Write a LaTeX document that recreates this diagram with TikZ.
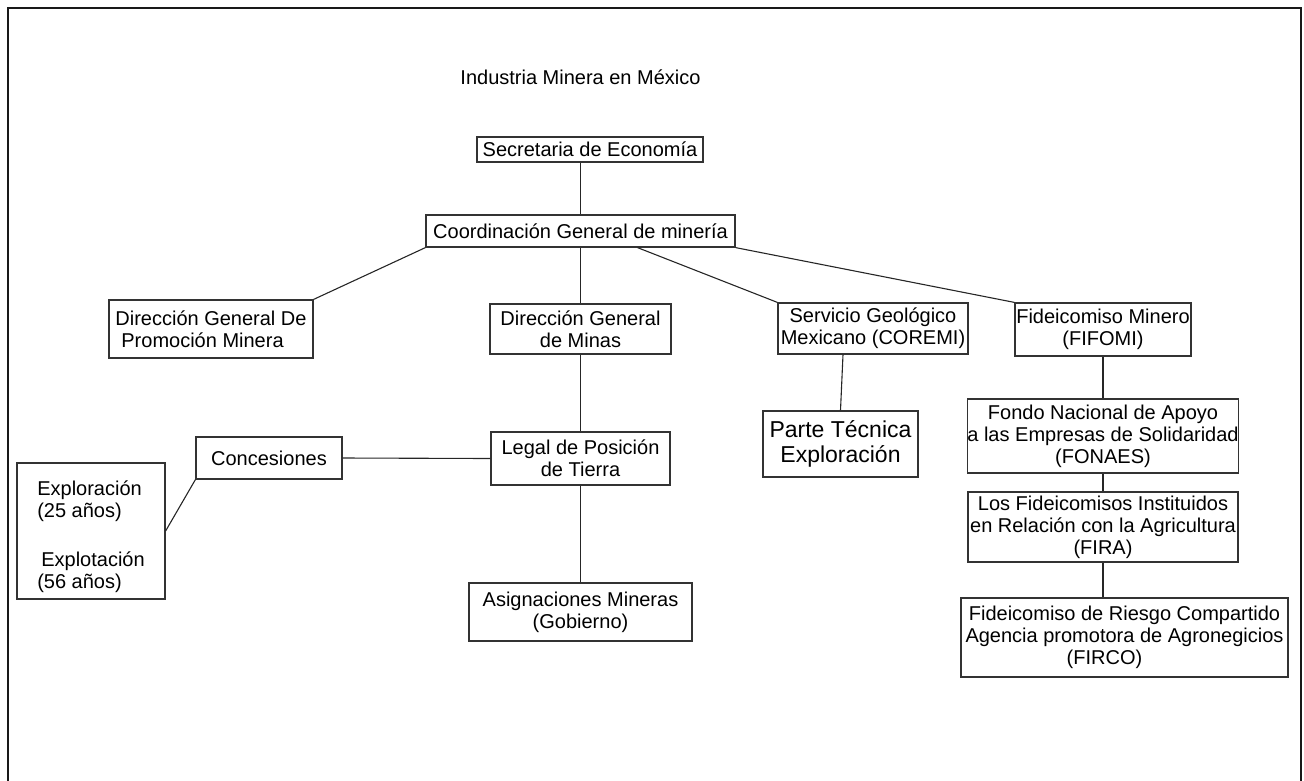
\documentclass[tikz,border=0pt]{standalone}
\usepackage{fontspec}
\setmainfont{Liberation Sans}
\usepackage{tikz}
\usetikzlibrary{positioning}

\begin{document}
\begin{tikzpicture}[x=1pt, y=-1pt,
      box/.style={draw=black!80, line width=1.2pt, inner sep=0pt, align=center,
                  font=\fontsize{20}{22}\selectfont},
      link/.style={draw=black!85, line width=1.1pt}]
    \useasboundingbox (0,0) rectangle (1304,780);
    \draw[line width=2pt, black!90] (8,8) rectangle (1301,800);
    \node[font=\fontsize{20}{22}\selectfont] (titulo) at (580.5,77) {Industria Minera en México};
    % nivel superior
    \node[box, minimum width=226, minimum height=25] (se) at (590,149.5) {Secretaria de Economía};
    \node[box, minimum width=309, minimum height=32] (cgm) at (580.5,231) {Coordinación General de minería};
    % direcciones
    \node[box, minimum width=204, minimum height=58, align=left] (dgpm) at (211,329)
      {Dirección General De\\\hspace*{6pt}Promoción Minera};
    \node[box, minimum width=181, minimum height=50] (dgm) at (580.5,329) {Dirección General\\de Minas};
    \node[box, minimum width=190, minimum height=51] (sgm) at (873,328.5) {Servicio Geológico\\Mexicano (COREMI)};
    \node[box, minimum width=176, minimum height=53] (fifomi) at (1103,329.5) {Fideicomiso Minero\\(FIFOMI)};
    % rama central
    \node[box, minimum width=179, minimum height=53] (legal) at (580.5,458.5) {Legal de Posición\\de Tierra};
    \node[box, minimum width=223, minimum height=58] (asig) at (580.5,612) {Asignaciones Mineras\\(Gobierno)};
    \node[box, minimum width=146, minimum height=42] (conc) at (269,458) {Concesiones};
    \node[box, minimum width=148, minimum height=136, align=left] (explo) at (91,531)
      {\rule{0pt}{27pt}Exploración\\(25 años)\\[27pt]\hspace*{4pt}Explotación\\(56 años)};
    % servicio geologico
    \node[box, minimum width=155, minimum height=66, font=\fontsize{23}{25}\selectfont] (parte) at (840.5,444)
      {Parte Técnica\\Exploración};
    % fideicomisos
    \node[box, minimum width=268, minimum height=74] (fonaes) at (1103,436)
      {Fondo Nacional de Apoyo\\a las Empresas de Solidaridad\\(FONAES)};
    \node[box, minimum width=270, minimum height=70] (fira) at (1103,527)
      {Los Fideicomisos Instituidos\\en Relación con la Agricultura\\(FIRA)};
    \node[box, minimum width=327, minimum height=79] (firco) at (1124.5,637.5)
      {Fideicomiso de Riesgo Compartido\\Agencia promotora de Agronegicios\\\hspace*{-40pt}(FIRCO)};
    % conectores
    \draw[link] (se.south -| cgm.north) -- (cgm.north);
    \draw[link] (cgm.south west) -- (dgpm.north east);
    \draw[link] (cgm.south) -- (dgm.north);
    \draw[link] ([xshift=57pt]cgm.south) -- (sgm.north west);
    \draw[link] (cgm.south east) -- (fifomi.north west);
    \draw[link] ([xshift=-30pt]sgm.south) -- (parte.north);
    \draw[link] (dgm.south) -- (legal.north);
    \draw[link] (legal.south) -- (asig.north);
    \draw[link] (conc.east) -- (legal.west);
    \draw[link] (explo.east) -- (conc.south west);
    \draw[link] (fifomi.south) -- (fonaes.north);
    \draw[link] (fonaes.south) -- (fira.north);
    \draw[link] (fira.south) -- (fira.south |- firco.north);
\end{tikzpicture}
\end{document}
